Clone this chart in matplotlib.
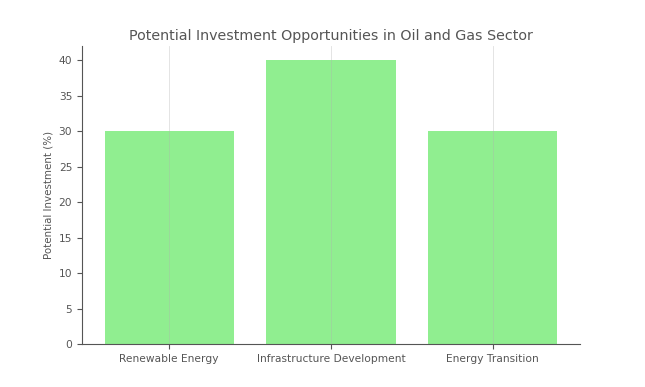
import matplotlib.pyplot as plt

categories = ['Renewable Energy', 'Infrastructure Development', 'Energy Transition']
investment = [30, 40, 30]

text_color = '#555555'

fig, ax = plt.subplots(figsize=(6.45, 3.87), dpi=100)
fig.subplots_adjust(left=0.127, right=0.899, bottom=0.111, top=0.881)

ax.bar(categories, investment, color='#90EE90', width=0.8)

ax.set_title('Potential Investment Opportunities in Oil and Gas Sector',
             fontsize=10.3, color=text_color, pad=4)
ax.set_ylabel('Potential Investment (%)', fontsize=7.4, color=text_color)
ax.tick_params(labelsize=7.7, colors=text_color)

ax.grid(axis='x', color='#b0b0b0', alpha=0.4, linewidth=0.6)
ax.set_axisbelow(False)
for side in ['top', 'right']:
    ax.spines[side].set_visible(False)
for side in ['left', 'bottom']:
    ax.spines[side].set_color(text_color)

plt.savefig('out.png')
